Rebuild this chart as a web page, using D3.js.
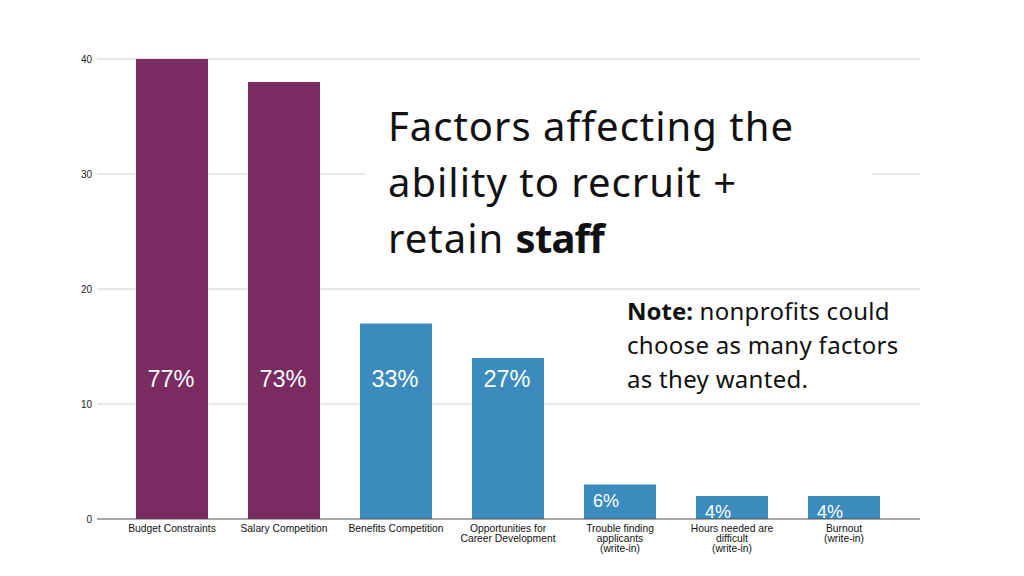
<!DOCTYPE html>
<html><head><meta charset="utf-8">
<script src="https://cdn.jsdelivr.net/npm/d3@7"></script>
<style>body{margin:0;background:#fff;}svg{display:block;}</style>
</head><body><svg id="c" width="1024" height="576"></svg>
<script>
const categories = [
  ["Budget Constraints"],
  ["Salary Competition"],
  ["Benefits Competition"],
  ["Opportunities for", "Career Development"],
  ["Trouble finding", "applicants", "(write-in)"],
  ["Hours needed are", "difficult", "(write-in)"],
  ["Burnout", "(write-in)"]
];
const counts = [40, 38, 17, 14, 3, 2, 2];
const percentLabels = ["77%", "73%", "33%", "27%", "6%", "4%", "4%"];
const groups = ["main", "main", "other", "other", "other", "other", "other"];
const yTicks = [0, 10, 20, 30, 40];
const titleLines = [["Factors affecting the", ""], ["ability to recruit +", ""], ["retain ", "staff"]];
const noteLines = [["Note:", " nonprofits could"], ["", "choose as many factors"], ["", "as they wanted."]];

const svg = d3.select("#c");
const color = d3.scaleOrdinal().domain(["main", "other"]).range(["#7a2b62", "#3c8bbd"]);
const keys = categories.map((d, i) => "c" + i);
const x = d3.scaleBand().domain(keys).range([116, 900]).paddingInner(0.357).paddingOuter(0.1785);
const y = d3.scaleLinear().domain([0, 40]).range([519, 59]);

// gridlines
svg.append("g").selectAll("line").data(yTicks.filter(t => t > 0)).join("line")
  .attr("x1", 97).attr("x2", 920).attr("y1", d => y(d)).attr("y2", d => y(d))
  .attr("stroke", "#cfcfcf").attr("stroke-width", 1);

// y tick labels
svg.append("g").selectAll("text").data(yTicks).join("text")
  .attr("x", 92).attr("y", d => y(d) + 3.5).attr("text-anchor", "end")
  .attr("font-family", "Liberation Sans, Arial, sans-serif").attr("font-size", 10).attr("fill", "#222")
  .text(d => d);

// bars
svg.append("g").selectAll("rect").data(counts).join("rect")
  .attr("x", (d, i) => x(keys[i])).attr("width", x.bandwidth())
  .attr("y", d => y(d)).attr("height", d => y(0) - y(d))
  .attr("fill", (d, i) => color(groups[i]));

// baseline axis
svg.append("line").attr("x1", 97).attr("x2", 920).attr("y1", y(0)).attr("y2", y(0))
  .attr("stroke", "#555").attr("stroke-width", 1);

// category labels
const cl = svg.append("g").selectAll("text").data(categories).join("text")
  .attr("x", (d, i) => x(keys[i]) + x.bandwidth() / 2)
  .attr("y", 532).attr("text-anchor", "middle")
  .attr("font-family", "Liberation Sans, Arial, sans-serif").attr("font-size", 10.3).attr("fill", "#111");
cl.selectAll("tspan").data(d => d).join("tspan")
  .attr("x", function () { return d3.select(this.parentNode).attr("x"); })
  .attr("dy", (d, j) => j === 0 ? 0 : 10).text(d => d);

// percent labels
svg.append("g").selectAll("text").data(percentLabels).join("text")
  .attr("x", (d, i) => counts[i] > 10 ? x(keys[i]) + x.bandwidth() / 2 - 1 : x(keys[i]) + 9)
  .attr("y", (d, i) => counts[i] > 10 ? 387 : y(counts[i]) + 22)
  .attr("text-anchor", (d, i) => counts[i] > 10 ? "middle" : "start")
  .attr("font-family", "Liberation Sans, Arial, sans-serif")
  .attr("font-size", (d, i) => counts[i] > 10 ? 23.5 : 18)
  .attr("fill", "#fff").text(d => d);

// title box
svg.append("rect").attr("x", 365).attr("y", 95).attr("width", 507).attr("height", 180).attr("fill", "#fff");
const tt = svg.append("g").selectAll("text").data(titleLines).join("text")
  .attr("x", 388).attr("y", (d, i) => 141 + i * 56)
  .attr("font-family", "Noto Sans, sans-serif").attr("font-size", 40)
  .attr("fill", "#111");
tt.append("tspan").attr("letter-spacing", 1).text(d => d[0]);
tt.append("tspan").attr("font-weight", "bold").attr("letter-spacing", -0.8).text(d => d[1]);

const nt = svg.append("g").selectAll("text").data(noteLines).join("text")
  .attr("x", 627).attr("y", (d, i) => 320 + i * 34)
  .attr("font-family", "Noto Sans, sans-serif").attr("font-size", 24)
  .attr("fill", "#111");
nt.append("tspan").attr("font-weight", "bold").text(d => d[0]);
nt.append("tspan").attr("letter-spacing", 0.3).style("white-space", "pre").text(d => d[1]);
</script></body></html>
